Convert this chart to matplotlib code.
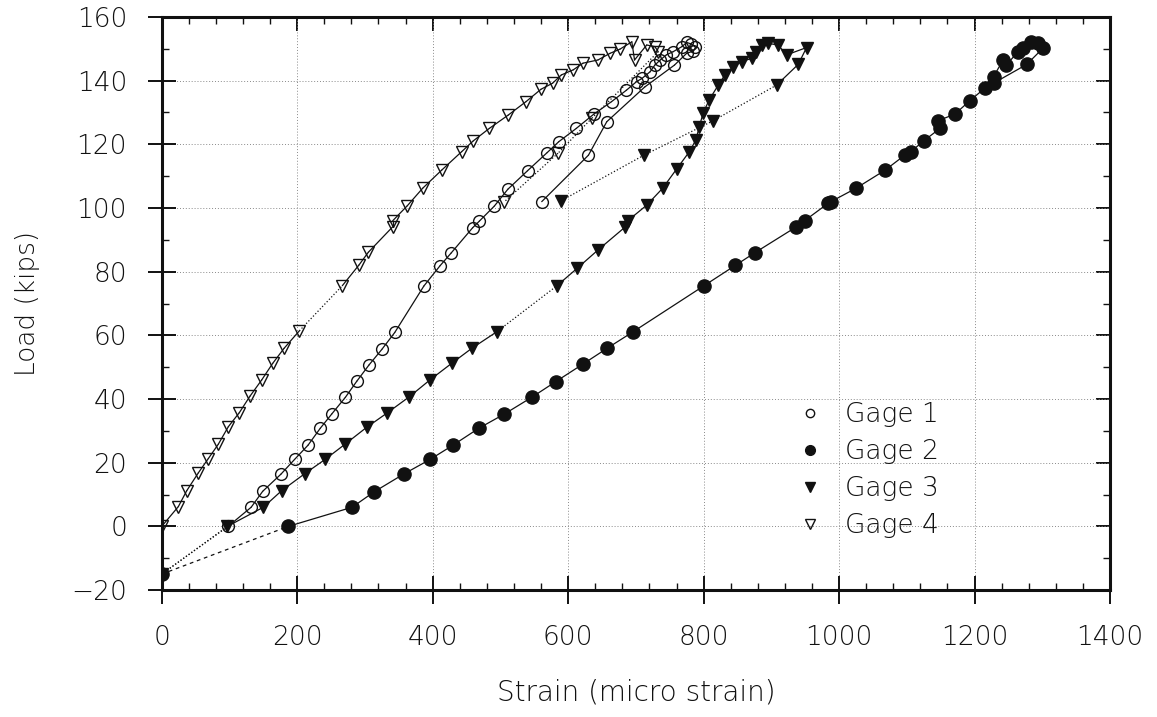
import matplotlib
matplotlib.use("Agg")
import matplotlib.pyplot as plt
from matplotlib.ticker import MultipleLocator
from matplotlib.lines import Line2D

# ---- strain gage readings: strain (micro strain) vs load (kips) ----
gage1_strain = [0, 98, 132, 149, 176, 196, 216, 234, 251, 271, 288, 306, 325, 344,
                387, 411, 427, 459, 469, 491, 511, 540, 569, 586, 612, 638, 664, 686,
                701, 709, 721, 728, 736, 745, 755, 768, 775, 782, 788, 785, 775,
                757, 713, 657, 630, 561]
gage1_load = [-15, 0, 6, 11, 16.4, 21, 25.5, 30.8, 35.3, 40.5, 45.6, 50.7, 55.6, 60.9,
              75.5, 81.9, 85.8, 93.8, 95.9, 100.6, 105.9, 111.7, 117.4, 120.8, 125, 129.5, 133.4, 137,
              139.7, 140.7, 142.8, 144.9, 146.5, 148.1, 149.1, 150.7, 152, 151.5, 150.5, 149.3, 148.6,
              144.9, 138, 127.1, 116.6, 102]

gage2_strain = [0, 187, 281, 314, 357, 396, 430, 468, 506, 546, 582, 622, 658, 695,
                800, 847, 876, 937, 949, 984, 988, 1025, 1068, 1097, 1106, 1125, 1149, 1146,
                1171, 1193, 1215, 1228, 1242, 1247, 1264, 1272, 1284, 1294, 1301, 1277, 1228]
gage2_load = [-15, 0, 6, 10.9, 16.4, 21, 25.5, 30.8, 35.3, 40.5, 45.5, 51, 56, 61,
              75.5, 82, 86, 94.1, 96, 101.5, 102, 106.2, 111.9, 116.6, 117.7, 121.1, 125, 127.4,
              129.5, 133.7, 137.6, 141.2, 146.5, 144.9, 149.1, 150.2, 152.3, 151.7, 150.2, 145.1, 139.2]

gage3_strain = [0, 97, 150, 177, 211.5, 241, 270.6, 302.5, 332, 365.5, 396, 428, 457.6, 494.5,
                583, 613, 644, 684, 688, 716, 739.5, 760, 779, 788.6, 793.5, 799.4, 808.3, 821.6,
                831.5, 843.7, 856, 870.8, 878, 885.6, 895.4, 910, 922.5, 952, 939.6, 907.7,
                814, 712, 589]
gage3_load = [-15, 0, 6, 11.2, 16.6, 21, 25.8, 31.1, 35.5, 40.7, 46, 51.2, 55.9, 61.1,
              75.5, 81, 86.8, 94, 96, 100.9, 106.2, 112.2, 117.7, 121.4, 125.5, 129.9, 134, 138.6,
              141.8, 144.4, 146, 147, 149.1, 151.2, 151.7, 151.2, 148.1, 150.4, 145.1, 138.6,
              127.4, 116.6, 102.2]

gage4_strain = [0, 24.5, 36.9, 54, 68.8, 83.5, 98.3, 114.5, 130.3, 147.6, 163.8, 180.5, 203.1,
                266.6, 291.2, 305, 341, 341, 362.5, 385.2, 413.3, 442.8, 460, 483.6, 511.6, 537.7,
                559.9, 577, 590, 607.5, 622, 644, 662, 676.5, 694, 698, 716, 728, 733,
                635, 585, 506]
gage4_load = [0, 6.2, 11.2, 16.8, 21.3, 25.8, 31.3, 35.7, 40.9, 46, 51.2, 55.9, 61.4,
              75.6, 82.1, 86.1, 94.1, 96, 100.7, 106.2, 111.9, 117.7, 121.1, 125, 129.2, 133.4,
              137.3, 139.2, 141.8, 143.4, 145.5, 146.5, 148.6, 149.9, 152.2, 146.5, 151.2, 150.7, 149.1,
              128.2, 117.2, 102]

# segments (index of first point) drawn with broken lines
gage1_broken = {0: ':'}
gage2_broken = {0: (0, (3, 3))}
gage3_broken = {0: ':', 13: ':', 39: ':', 40: ':', 41: ':'}
gage4_broken = {12: ':', 38: ':', 39: ':', 40: ':'}

labels = ["Gage 1", "Gage 2", "Gage 3", "Gage 4"]

plt.rcParams['font.family'] = ['DejaVu Sans']
plt.rcParams['font.weight'] = 200
plt.rcParams['axes.labelweight'] = 200
plt.rcParams['axes.unicode_minus'] = True

INK = '#111111'

fig = plt.figure(figsize=(11.57, 7.17), dpi=100)
ax = fig.add_axes([0.1398, 0.1771, 0.8196, 0.7992])


def draw_series(strain, load, broken, marker, ms, face):
    for i in range(len(strain) - 1):
        ls = broken.get(i, '-')
        ax.plot(strain[i:i + 2], load[i:i + 2], color=INK, lw=0.9,
                linestyle=ls, zorder=2, solid_capstyle='round')
    ax.plot(strain, load, linestyle='none', marker=marker, ms=ms,
            mfc=face, mec=INK, mew=1.0, zorder=3)


draw_series(gage4_strain, gage4_load, gage4_broken, 'v', 8.5, 'none')
draw_series(gage1_strain, gage1_load, gage1_broken, 'o', 8.5, 'none')
draw_series(gage3_strain, gage3_load, gage3_broken, 'v', 8.5, INK)
draw_series(gage2_strain, gage2_load, gage2_broken, 'o', 9.5, INK)

ax.set_xlim(0, 1400)
ax.set_ylim(-20, 160)
ax.xaxis.set_major_locator(MultipleLocator(200))
ax.xaxis.set_minor_locator(MultipleLocator(40))
ax.yaxis.set_major_locator(MultipleLocator(20))
ax.yaxis.set_minor_locator(MultipleLocator(10))

ax.grid(which='major', color='#8a8a8a', linestyle=(0, (1, 2)), lw=0.7, zorder=0)

for s in ax.spines.values():
    s.set_linewidth(2.2)
    s.set_color(INK)

ax.tick_params(which='major', direction='inout', length=20, width=1.4,
               color=INK, labelsize=19, pad=15, labelcolor=INK)
ax.tick_params(which='minor', direction='in', length=5, width=1.0, color=INK)

# inward ticks on the top and right edges
top = ax.secondary_xaxis('top')
top.xaxis.set_major_locator(MultipleLocator(200))
top.xaxis.set_minor_locator(MultipleLocator(40))
top.tick_params(which='major', direction='in', length=10, width=1.4, color=INK, labeltop=False)
top.tick_params(which='minor', direction='in', length=5, width=1.0, color=INK)
right = ax.secondary_yaxis('right')
right.yaxis.set_major_locator(MultipleLocator(20))
right.yaxis.set_minor_locator(MultipleLocator(10))
right.tick_params(which='major', direction='in', length=10, width=1.4, color=INK, labelright=False)
right.tick_params(which='minor', direction='in', length=5, width=1.0, color=INK)
for sec in (top, right):
    for s in sec.spines.values():
        s.set_visible(False)

ax.set_xlabel("Strain (micro strain)", fontsize=20, color=INK, fontweight=200)
ax.set_ylabel("Load (kips)", fontsize=19, color=INK, fontweight=200)
ax.xaxis.set_label_coords(0.5, -0.155)
ax.yaxis.set_label_coords(-0.128, 0.5)

handles = [
    Line2D([], [], linestyle='none', marker='o', ms=6, mfc='none', mec=INK, mew=1.0),
    Line2D([], [], linestyle='none', marker='o', ms=7, mfc=INK, mec=INK),
    Line2D([], [], linestyle='none', marker='v', ms=6.5, mfc=INK, mec=INK),
    Line2D([], [], linestyle='none', marker='v', ms=6.5, mfc='none', mec=INK, mew=1.0),
]
ax.legend(handles, labels, loc='upper left', bbox_to_anchor=(0.670, 0.328),
          frameon=False, fontsize=19, handlelength=1.0, handletextpad=0.8,
          labelspacing=0.46, borderpad=0, borderaxespad=0, labelcolor=INK)

fig.savefig("out.png", dpi=100, facecolor='white')
